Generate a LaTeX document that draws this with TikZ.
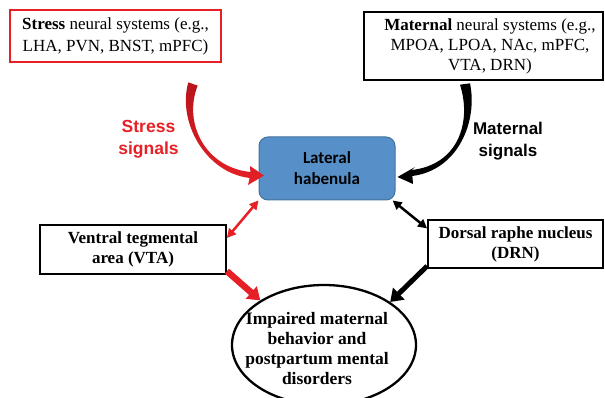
\documentclass[tikz,border=0pt]{standalone}
\usepackage{fontspec}
\setmainfont{Liberation Serif}
\newfontfamily\arialfont{Liberation Sans}
\newfontfamily\califont{Carlito}
\usetikzlibrary{arrows.meta,shapes.geometric}
\definecolor{sred}{RGB}{230,32,38}
\definecolor{sreddark}{RGB}{185,20,28}
\definecolor{lhblue}{RGB}{87,144,201}
\definecolor{lhborder}{RGB}{65,113,156}
\begin{document}
\begin{tikzpicture}[x=1pt,y=-1pt,
  box/.style={draw=black,line width=1.8pt,inner sep=0pt,align=center,
    font=\fontsize{17}{20}\selectfont},
  lhbox/.style={draw=lhborder,fill=lhblue,line width=1pt,rounded corners=9pt,
    inner sep=0pt,align=center,minimum width=136pt,minimum height=63pt,
    font=\califont\bfseries\fontsize{17}{21}\selectfont},
  siglabel/.style={align=center,inner sep=0pt,
    font=\arialfont\bfseries\fontsize{17.5}{22}\selectfont},
  thin2/.style={line width=2.5pt,{Triangle[length=9pt,width=9pt]}-{Triangle[length=9pt,width=9pt]}},
  thick2/.style={-{Triangle[length=12pt,width=16pt]}}
]
\useasboundingbox (0,0) rectangle (605,398);
\clip (0,0) rectangle (605,398);

% boxes
\node[box,draw=sred,minimum width=211pt,minimum height=52pt,
  font=\fontsize{17}{22}\selectfont] (stress) at (115.5,36)
  {\textbf{Stress} neural systems (e.g.,\\LHA, PVN, BNST, mPFC)};
\node[box,minimum width=239pt,minimum height=68pt] (maternal) at (483.5,46)
  {\hspace*{13pt}\textbf{Maternal} neural systems (e.g.,\\
   \hspace*{13pt}MPOA, LPOA, NAc, mPFC,\\
   \hspace*{13pt}VTA, DRN)};
\node[lhbox] (lh) at (327,168.5) {Lateral\\habenula};
\node[box,font=\bfseries\fontsize{17}{20}\selectfont,
  minimum width=186pt,minimum height=49pt] (vta) at (133,249.5)
  {Ventral tegmental\\area (VTA)};
\node[box,font=\bfseries\fontsize{17}{20}\selectfont,
  minimum width=175pt,minimum height=48pt] (drn) at (515.5,244)
  {Dorsal raphe nucleus\\(DRN)};
\node[ellipse,draw=black,line width=2.3pt,inner sep=0pt,
  minimum width=184pt,minimum height=120pt] (out) at (324,345) {};
\node[align=center,inner sep=0pt,font=\bfseries\fontsize{17.5}{20}\selectfont]
  (outtext) at (317,349)
  {Impaired maternal\\behavior and\\postpartum mental\\disorders};

% signal labels
\node[siglabel,text=sred] (sslab) at (148.5,139) {Stress\\signals};
\node[siglabel,text=black,font=\arialfont\bfseries\fontsize{17}{22}\selectfont] (mslab) at (508,141) {Maternal\\signals};

% curved stress arrow (tapered block arrow)
\shade[top color=sreddark,bottom color=sred]
  (188.3,82.4) .. controls (177.2,121) and (204.7,172.5) .. (249.6,178)
  -- (248,185) -- (264,175.5) -- (250,166) -- (250.4,172)
  .. controls (205.3,167.5) and (182.8,123) .. (197.7,85.6) -- cycle;

% curved maternal arrow (tapered block arrow)
\fill[black]
  (470,83.3) .. controls (477.9,121.3) and (458.3,170) .. (412.4,176)
  -- (413,184) -- (397.5,177) -- (415,167) -- (411.6,170)
  .. controls (457.7,165) and (472.1,122.7) .. (460,84.7) -- cycle;

% connectors
\draw[sred,thin2] (vta.7) -- (lh.205);
\draw[black,thin2] (lh.334) -- (drn.170);
\draw[sred,line width=6.5pt,thick2] (vta.347) -- (out.145);
\draw[black,line width=5pt,thick2] (drn.194) -- (out.33);
\end{tikzpicture}
\end{document}
